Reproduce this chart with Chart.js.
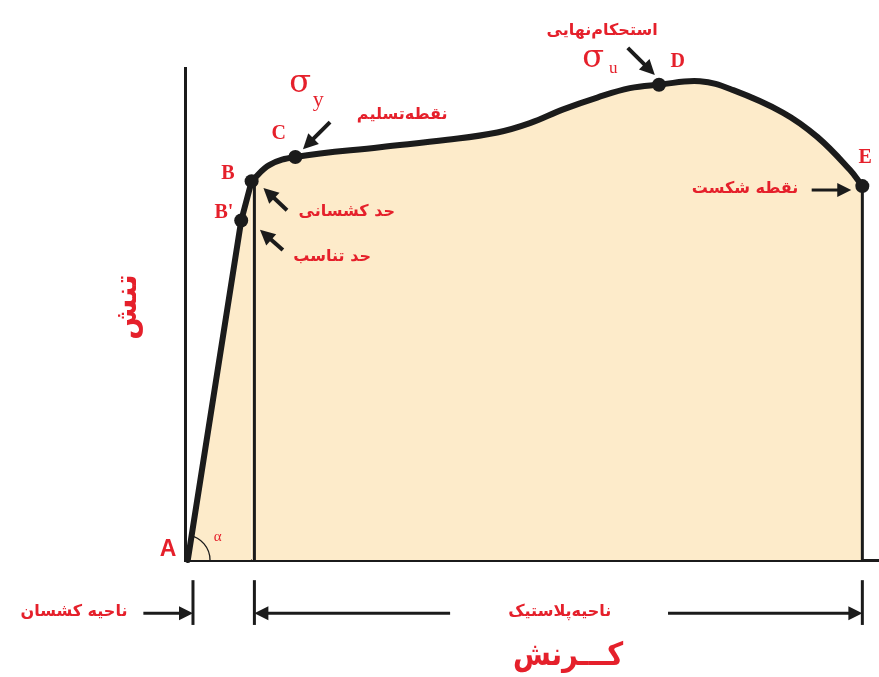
<!DOCTYPE html>
<html lang="fa">

<head>
    <meta charset="UTF-8">
    <title>نمودار تنش - کرنش</title>
    <style>
        body { margin: 0; background: #fff; }
        .grafico { width: 879px; height: 677px; }
    </style>
</head>

<body>
    <div class="grafico">
        <canvas id="grafico-tensao" width="879" height="677"></canvas>
    </div>
</body>

</html>
<script src="https://cdn.jsdelivr.net/npm/chart.js"></script>
<script>
    // elastic part A -> B' -> B (straight line)
    var strainElastic = [0.4, 8.1, 9.6];
    var stressElastic = [0, 69.0, 77.0];

    // plastic part B -> C -> D -> E
    var strainPlastic = [9.6, 12.2, 15.9, 28.1, 37.8, 45.0, 49.7, 54.5, 59.4, 64.1, 68.3, 74.2, 79.0, 86.2, 91.1, 95.8, 97.6];
    var stressPlastic = [77.0, 80.3, 81.9, 83.9, 85.4, 86.9, 88.8, 91.6, 94.0, 95.9, 96.6, 97.3, 95.5, 90.9, 86.0, 79.3, 76.0];

    // marked points
    var pointNames = ["B'", 'B', 'C', 'D', 'E'];
    var pointStrain = [8.1, 9.6, 15.9, 68.3, 97.6];
    var pointStress = [69.0, 77.0, 81.9, 96.6, 76.0];

    // region limits on the strain axis
    var elasticStart = 1.15;
    var proportionalStrain = 10.0;
    var proportionalStress = 76.0;
    var fractureStrain = 97.6;
    var fractureStress = 76.0;

    var vermelho = '#e5202b';
    var preto = '#1b1b1b';
    var bege = '#fdebca';
    var fonteFa = '"DejaVu Sans", sans-serif';
    var fonteSerif = '"Liberation Serif", "DejaVu Serif", serif';

    function pares(xs, ys) {
        var lista = [];
        for (let i = 0; i < xs.length; i++) {
            lista.push({ x: xs[i], y: ys[i] });
        }
        return lista;
    }

    function texto(ctx, str, x, y, font, maxWidth) {
        ctx.save();
        ctx.font = font;
        ctx.fillStyle = vermelho;
        ctx.textAlign = 'center';
        ctx.textBaseline = 'middle';
        if (maxWidth) ctx.fillText(str, x, y, maxWidth);
        else ctx.fillText(str, x, y);
        ctx.restore();
    }

    function seta(ctx, x1, y1, x2, y2, largura, cabeca) {
        var ang = Math.atan2(y2 - y1, x2 - x1);
        ctx.save();
        ctx.strokeStyle = preto;
        ctx.fillStyle = preto;
        ctx.lineWidth = largura;
        ctx.beginPath();
        ctx.moveTo(x1, y1);
        ctx.lineTo(x2 - Math.cos(ang) * cabeca * 0.8, y2 - Math.sin(ang) * cabeca * 0.8);
        ctx.stroke();
        ctx.translate(x2, y2);
        ctx.rotate(ang);
        ctx.beginPath();
        ctx.moveTo(0, 0);
        ctx.lineTo(-cabeca, -cabeca * 0.5);
        ctx.lineTo(-cabeca, cabeca * 0.5);
        ctx.closePath();
        ctx.fill();
        ctx.restore();
    }

    function linha(ctx, x1, y1, x2, y2, largura) {
        ctx.save();
        ctx.strokeStyle = preto;
        ctx.lineWidth = largura;
        ctx.beginPath();
        ctx.moveTo(x1, y1);
        ctx.lineTo(x2, y2);
        ctx.stroke();
        ctx.restore();
    }

    // labels, arrows and region brackets, placed through the scales
    var anotacoes = {
        id: 'anotacoes',
        afterDraw: function (chart) {
            var ctx = chart.ctx;
            var sx = chart.scales.x, sy = chart.scales.y;
            var X = function (v) { return sx.getPixelForValue(v); };
            var Y = function (v) { return sy.getPixelForValue(v); };

            // point letters
            texto(ctx, 'A', X(-2.45), Y(2.2), 'bold 23px "Liberation Sans", sans-serif');
            texto(ctx, 'B', X(6.2), Y(78.5), 'bold 20px ' + fonteSerif);
            texto(ctx, "B'", X(5.6), Y(70.5), 'bold 20px ' + fonteSerif);
            texto(ctx, 'C', X(13.5), Y(86.6), 'bold 20px ' + fonteSerif);
            texto(ctx, 'D', X(71.0), Y(101.2), 'bold 20px ' + fonteSerif);
            texto(ctx, 'E', X(98.0), Y(81.7), 'bold 20px ' + fonteSerif);

            // sigma y and sigma u
            texto(ctx, 'σ', X(16.6), Y(96.8), '32px "DejaVu Serif", serif');
            texto(ctx, 'y', X(19.2), Y(93.5), '22px ' + fonteSerif);
            texto(ctx, 'σ', X(58.8), Y(101.9), '32px "DejaVu Serif", serif');
            texto(ctx, 'u', X(61.7), Y(99.8), '17px ' + fonteSerif);

            // persian labels
            texto(ctx, 'نقطه‌تسلیم', X(31.3), Y(90.4), 'bold 16px ' + fonteFa, 104);
            texto(ctx, 'حد کشسانی', X(23.3), Y(70.7), 'bold 16px ' + fonteFa, 106);
            texto(ctx, 'حد تناسب', X(21.2), Y(61.6), 'bold 16px ' + fonteFa, 90);
            texto(ctx, 'استحکام‌نهایی', X(60.1), Y(107.5), 'bold 16px ' + fonteFa, 130);
            texto(ctx, 'نقطه شکست', X(80.7), Y(75.4), 'bold 16px ' + fonteFa, 110);
            texto(ctx, 'ناحیه‌پلاستیک', X(54.0), Y(-10.6), 'bold 16px ' + fonteFa, 134);
            texto(ctx, 'ناحیه کشسان', X(-16.0), Y(-10.6), 'bold 16px ' + fonteFa, 122);
            texto(ctx, 'کـــرنش', X(55.2), Y(-19.6), 'bold 32px ' + fonteFa, 110);

            // stress title (vertical)
            ctx.save();
            ctx.translate(X(-8.2), Y(51.4));
            ctx.rotate(-Math.PI / 2);
            texto(ctx, 'تنش', 0, 0, 'bold 30px ' + fonteFa, 68);
            ctx.restore();

            // arrows pointing at the points
            seta(ctx, X(20.9), Y(89.0), X(17.0), Y(83.5), 4, 15);
            seta(ctx, X(14.7), Y(71.1), X(11.3), Y(75.6), 4, 15);
            seta(ctx, X(14.1), Y(63.0), X(10.8), Y(67.1), 4, 15);
            seta(ctx, X(63.8), Y(104.1), X(67.7), Y(98.6), 4, 15);
            seta(ctx, X(90.3), Y(75.2), X(96.0), Y(75.2), 3, 14);

            // angle alpha at A
            ctx.save();
            ctx.strokeStyle = preto;
            ctx.lineWidth = 1.3;
            ctx.beginPath();
            ctx.arc(X(0), Y(0), 25, -Math.atan2(Y(0) - Y(stressElastic[1]), X(strainElastic[1]) - X(0)), 0);
            ctx.stroke();
            ctx.restore();
            texto(ctx, 'α', X(4.7), Y(4.6), '15px ' + fonteSerif);

            // region brackets under the strain axis
            var yTopo = Y(-4.1), yBase = Y(-13.2), yMeio = Y(-10.8);
            linha(ctx, X(elasticStart), yTopo, X(elasticStart), yBase, 3);
            linha(ctx, X(proportionalStrain), yTopo, X(proportionalStrain), yBase, 3);
            linha(ctx, X(fractureStrain), yTopo, X(fractureStrain), yBase, 3);
            seta(ctx, X(-6.0), yMeio, X(elasticStart), yMeio, 3, 14);
            seta(ctx, X(38.2), yMeio, X(proportionalStrain), yMeio, 3, 14);
            seta(ctx, X(69.6), yMeio, X(fractureStrain), yMeio, 3, 14);
        }
    };

    var grafico = new Chart(document.getElementById('grafico-tensao'), {
        type: 'scatter',
        data: {
            datasets: [
                {
                    label: 'نقاط',
                    data: pares(pointStrain, pointStress),
                    backgroundColor: preto,
                    borderColor: preto,
                    pointRadius: 7,
                    borderWidth: 0,
                    clip: false,
                    order: 0
                },
                {
                    label: 'حد تناسب',
                    data: [{ x: proportionalStrain, y: proportionalStress }, { x: proportionalStrain, y: 0 }],
                    showLine: true,
                    borderColor: preto,
                    borderWidth: 3,
                    pointRadius: 0,
                    order: 1
                },
                {
                    label: 'نقطه شکست',
                    data: [{ x: fractureStrain, y: fractureStress }, { x: fractureStrain, y: 0 }],
                    showLine: true,
                    borderColor: preto,
                    borderWidth: 3,
                    pointRadius: 0,
                    order: 1
                },
                {
                    label: 'ناحیه کشسان',
                    data: pares(strainElastic, stressElastic),
                    showLine: true,
                    tension: 0,
                    borderColor: preto,
                    borderWidth: 6,
                    backgroundColor: bege,
                    fill: 'origin',
                    pointRadius: 0,
                    borderCapStyle: 'round',
                    clip: false,
                    order: 2
                },
                {
                    label: 'ناحیه پلاستیک',
                    data: pares(strainPlastic, stressPlastic),
                    showLine: true,
                    tension: 0.4,
                    borderColor: preto,
                    borderWidth: 6,
                    backgroundColor: bege,
                    fill: 'origin',
                    pointRadius: 0,
                    borderCapStyle: 'round',
                    clip: false,
                    order: 2
                }
            ]
        },
        options: {
            responsive: false,
            animation: false,
            layout: {
                autoPadding: false,
                padding: { left: 185, top: 68, right: 0, bottom: 117 }
            },
            plugins: {
                legend: { display: false },
                tooltip: { enabled: false }
            },
            scales: {
                x: {
                    type: 'linear',
                    min: 0,
                    max: 100,
                    grid: { display: false, drawTicks: false },
                    ticks: { display: false },
                    border: { display: true, color: preto, width: 3 }
                },
                y: {
                    type: 'linear',
                    min: 0,
                    max: 100,
                    grid: { display: false, drawTicks: false },
                    ticks: { display: false },
                    border: { display: true, color: preto, width: 3 }
                }
            }
        },
        plugins: [anotacoes]
    });
</script>
